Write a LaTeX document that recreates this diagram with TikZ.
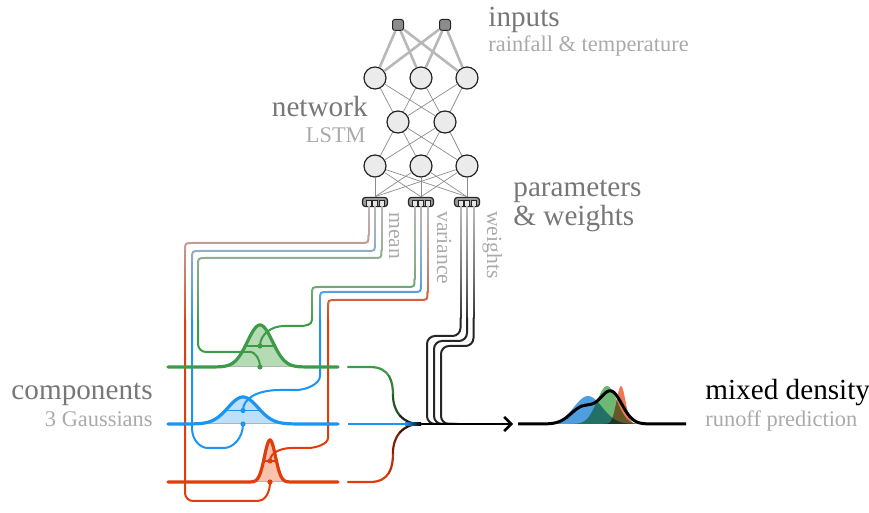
\documentclass[tikz,border=0pt]{standalone}
\usepackage{fontspec}
\setmainfont{Liberation Serif}
\usetikzlibrary{arrows.meta}

\definecolor{cgreen}{HTML}{3D9A47}
\definecolor{cblue}{HTML}{1B95F2}
\definecolor{cred}{HTML}{E03C0C}
\definecolor{fgreen}{HTML}{B5DBB5}
\definecolor{fblue}{HTML}{BCDFFA}
\definecolor{fred}{HTML}{F8C2AD}
\definecolor{mgreen}{HTML}{6DB873}
\definecolor{mblue}{HTML}{4F9FE0}
\definecolor{mred}{HTML}{EC7A5A}
\definecolor{txtdark}{HTML}{777777}
\definecolor{txtlight}{HTML}{AAAAAA}
\definecolor{wiregray}{HTML}{B8B8B8}
\definecolor{wblack}{HTML}{262626}

% colour fraction (percent) for a wire point at height #1 -> \wfp
\newcommand{\wirefrac}[1]{%
  \pgfmathsetmacro\wt{min(1,max(0,((#1)-206)/122))}%
  \pgfmathtruncatemacro\wfp{100*\wt*(0.6+0.4*\wt)}%
}
% vertical wire piece with colour gradient from grey (top) to colour (bottom)
\newcommand{\vgrad}[4]{%
  \pgfmathtruncatemacro\wvgN{max(1,ceil(abs((#3)-(#2))/5))}%
  \foreach \k in {1,...,\wvgN}{%
    \pgfmathsetmacro\wya{(#2)+((\k)-1)*((#3)-(#2))/\wvgN}%
    \pgfmathsetmacro\wyb{(#2)+(\k)*((#3)-(#2))/\wvgN}%
    \wirefrac{(\wya+\wyb)/2}%
    \draw[wp, draw=#4!\wfp!wiregray] (#1,\wya) -- (#1,\wyb);%
  }%
}
% a wire: down from x0, left along run height Y to xL, then down; #5 = rest of path from (xL,320)
\newcommand{\stdwire}[5]{%
  \vgrad{#1}{206.5}{(#2)-8}{#4}%
  \wirefrac{#2}%
  \draw[wp, draw=#4!\wfp!wiregray] (#1,#2-8) .. controls (#1,#2) .. (#1-8,#2) -- (#3+8,#2) .. controls (#3,#2) .. (#3,#2+8);%
  \vgrad{#3}{(#2)+8}{320}{#4}%
  \draw[wp, rounded corners=4pt, draw=#4] (#3,320) #5;%
}

\begin{document}
\begin{tikzpicture}[x=0.5pt,y=-0.5pt,
  neu/.style={circle, draw=black!85, fill=black!8, line width=0.6pt, minimum size=11pt, inner sep=0pt},
  inp/.style={rectangle, rounded corners=1.2pt, draw=black!85, fill=black!45, line width=0.5pt, minimum size=5.5pt, inner sep=0pt},
  blk/.style={rectangle, rounded corners=1.5pt, draw=black!85, fill=black!40, line width=0.6pt, minimum width=12.5pt, minimum height=4.6pt, inner sep=0pt},
  arch/.style={draw=black!85, fill=black!10, line width=0.4pt},
  thickedge/.style={draw=black!28, line width=1.3pt},
  thinedge/.style={draw=black!45, line width=0.35pt},
  wp/.style={line width=1pt, line cap=round},
  comp/.style={line width=1.6pt, line cap=round},
  halfline/.style={line width=0.8pt},
  dot/.style={circle, inner sep=0pt, minimum size=2.6pt},
  conn/.style={line width=1.1pt, line cap=round},
  bigtxt/.style={font=\fontsize{14.6}{17}\selectfont, inner sep=0pt, text=txtdark},
  smalltxt/.style={font=\fontsize{11.2}{13}\selectfont, inner sep=0pt, text=txtlight},
  rottxt/.style={font=\fontsize{10.8}{13}\selectfont, inner sep=0pt, text=txtlight, rotate=-90, anchor=base west},
]
\useasboundingbox (0,0) rectangle (869,513);

% ---------------- network ----------------
\node[inp] (i1) at (398,25) {};
\node[inp] (i2) at (445,25) {};
\node[neu] (a1) at (375,78) {};
\node[neu] (a2) at (421,78) {};
\node[neu] (a3) at (467,78) {};
\node[neu] (b1) at (398,122) {};
\node[neu] (b2) at (445,122) {};
\node[neu] (c1) at (375,166) {};
\node[neu] (c2) at (421,166) {};
\node[neu] (c3) at (467,166) {};
\node[blk] (o1) at (375,202) {};
\node[blk] (o2) at (421,202) {};
\node[blk] (o3) at (467,202) {};

\foreach \s in {i1,i2}{\foreach \t in {a1,a2,a3}{\draw[thickedge] (\s) -- (\t);}}
\foreach \s in {a1,a2,a3}{\foreach \t in {b1,b2}{\draw[thinedge] (\s) -- (\t);}}
\foreach \s in {b1,b2}{\foreach \t in {c1,c2,c3}{\draw[thinedge] (\s) -- (\t);}}
\foreach \s in {c1,c2,c3}{\foreach \t in {o1,o2,o3}{\draw[thinedge] (\s) -- (\t.north);}}

\foreach \c in {375,421,467}{
  \foreach \d in {-6.5,0,6.5}{
    \draw[arch] ({\c+\d-2.6},206.4) -- ({\c+\d-2.6},200.2) -- ({\c+\d+2.6},200.2) -- ({\c+\d+2.6},206.4);
  }
}

% ---------------- component fills ----------------
\fill[fgreen] (205,367) -- plot[domain=205:315, samples=90] (\x,{367-42*exp(-((\x-260)*(\x-260))/312.5)}) -- (315,367) -- cycle;
\fill[fblue] (180,424) -- plot[domain=180:306, samples=90] (\x,{424-27*exp(-((\x-243)*(\x-243))/450)}) -- (306,424) -- cycle;
\fill[fred] (248,482) -- plot[domain=248:292, samples=70] (\x,{482-42*exp(-((\x-270)*(\x-270))/60.5)}) -- (292,482) -- cycle;
\draw[black!30, line width=0.5pt] (215,367) -- (305,367);
\draw[black!30, line width=0.5pt] (195,424) -- (291,424);
\draw[black!30, line width=0.5pt] (255,482) -- (285,482);

% named points
\coordinate (gm) at (260,367);
\coordinate (gv) at (260,346);
\coordinate (bm) at (243,424);
\coordinate (bv) at (243,410.5);
\coordinate (rm) at (270,482);
\coordinate (rv) at (270,461);
\coordinate (join) at (420,424);
\coordinate (sg) at (348,367);
\coordinate (sb) at (348,424);
\coordinate (sr) at (348,482);
\coordinate (aend) at (513,424);

% ---------------- wires: mean ----------------
\stdwire{368.5}{243}{185}{cred}{-- (185,501) -- (250,501) .. controls (264,501) and (270,494) .. (rm)}
\stdwire{375}{251}{192}{cblue}{-- (192,420) .. controls (192,440) and (200,448) .. (216,448) .. controls (233,448) and (243,438) .. (bm)}
\stdwire{381.5}{258}{198}{cgreen}{-- (198,352) -- (243,352) .. controls (254,352) and (260,358) .. (gm)}

% ---------------- wires: variance ----------------
\stdwire{414.5}{287}{312}{cgreen}{.. controls (312,325) and (305,326) .. (292,326) .. controls (272,326) and (260,334) .. (gv)}
\stdwire{421}{292}{320}{cblue}{-- (320,368) .. controls (320,384) and (306,390) .. (288,390) .. controls (258,390) and (243,398) .. (bv)}
\stdwire{427.5}{300}{328}{cred}{-- (328,430) .. controls (328,444) and (316,448) .. (300,448) .. controls (280,448) and (270,453) .. (rv)}

% ---------------- wires: weights ----------------
\vgrad{460.5}{206.5}{318}{wblack}
\draw[wp, rounded corners=4pt, draw=wblack] (460.5,318) -- (460.5,336) -- (427,336) -- (427,424) -- (452,424);
\vgrad{467}{206.5}{318}{wblack}
\draw[wp, rounded corners=4pt, draw=wblack] (467,318) -- (467,341) -- (434,341) -- (434,424) -- (455,424);
\vgrad{473.5}{206.5}{318}{wblack}
\draw[wp, rounded corners=4pt, draw=wblack] (473.5,318) -- (473.5,346) -- (441,346) -- (441,424) -- (458,424);

% ---------------- component curves ----------------
\draw[comp, cgreen] (168,367) -- (205,367) -- plot[domain=205:315, samples=90] (\x,{367-42*exp(-((\x-260)*(\x-260))/312.5)}) -- (338,367);
\draw[comp, cblue] (168,424) -- (180,424) -- plot[domain=180:306, samples=90] (\x,{424-27*exp(-((\x-243)*(\x-243))/450)}) -- (338,424);
\draw[comp, cred] (168,482) -- (248,482) -- plot[domain=248:292, samples=70] (\x,{482-42*exp(-((\x-270)*(\x-270))/60.5)}) -- (338,482);
\draw[halfline, cgreen] (245.3,346) -- (274.7,346);
\draw[halfline, cblue] (225.3,410.5) -- (260.7,410.5);
\draw[halfline, cred] (263.5,461) -- (276.5,461);
\node[dot, fill=cgreen] (dgm) at (gm) {};
\node[dot, fill=cgreen] (dgv) at (gv) {};
\node[dot, fill=cblue] (dbm) at (bm) {};
\node[dot, fill=cblue] (dbv) at (bv) {};
\node[dot, fill=cred] (drm) at (rm) {};
\node[dot, fill=cred] (drv) at (rv) {};

% ---------------- connectors to mixture ----------------
\draw[conn, cgreen] (sg) -- (370,367) .. controls (380,367) and (385.75,370.75) .. (389,376.1);
\draw[conn, cgreen!82!black] (389,376.1) .. controls (392.25,381.5) and (393,388.5) .. (393,395);
\draw[conn, cgreen!55!black] (393,395) .. controls (393,403.5) and (395.5,410.75) .. (400.1,415.9);
\draw[conn, cgreen!25!black] (400.1,415.9) .. controls (404.75,421) and (411.5,424) .. (join);
\draw[conn, cred] (sr) -- (370,482) .. controls (380,482) and (385.75,478.25) .. (389,472.75);
\draw[conn, cred!82!black] (389,472.75) .. controls (392.25,467.25) and (393,460) .. (393,453);
\draw[conn, cred!55!black] (393,453) .. controls (393,444.5) and (395.5,437.25) .. (400.1,432.1);
\draw[conn, cred!25!black] (400.1,432.1) .. controls (404.75,427) and (411.5,424) .. (join);
\draw[conn, cblue, line cap=butt] (sb) -- (406,424);
\shade[left color=cblue, right color=black] (405,422.9) rectangle (421,425.1);
\draw[line width=1.3pt, -{Straight Barb[length=3.5pt, width=7pt, line width=1.3pt]}] (join) -- (aend);

% ---------------- mixed density ----------------
\begin{scope}[blend group=multiply]
  \fill[mblue] (545,424) -- plot[domain=545:640, samples=80] (\x,{424-28*exp(-((\x-588)*(\x-588))/392)}) -- (640,424) -- cycle;
  \fill[mgreen] (570,424) -- plot[domain=570:645, samples=80] (\x,{424-38*exp(-((\x-607)*(\x-607))/200)}) -- (645,424) -- cycle;
  \fill[mred] (603,424) -- plot[domain=603:640, samples=60] (\x,{424-38*exp(-((\x-621)*(\x-621))/40.5)}) -- (640,424) -- cycle;
\end{scope}
\draw[line width=1.5pt, line join=round] (518,424) -- (540,424) -- plot[domain=540:665, samples=120] (\x,{424-17*exp(-((\x-583)*(\x-583))/288)-32*exp(-((\x-611)*(\x-611))/242)}) -- (686,424);

% ---------------- texts ----------------
\node[bigtxt, anchor=base west] (tin) at (488,27) {inputs};
\node[smalltxt, anchor=base west] (tin2) at (488,52) {rainfall \& temperature};
\node[bigtxt, anchor=base east] (tnet) at (368,117) {network};
\node[smalltxt, anchor=base east] (tnet2) at (366,143) {LSTM};
\node[bigtxt, anchor=base west] (tpar) at (513,197) {parameters};
\node[bigtxt, anchor=base west] (tpar2) at (513,226) {\& weights};
\node[bigtxt, anchor=base east] (tcomp) at (153,400) {components};
\node[smalltxt, anchor=base east] (tcomp2) at (153,427) {3 Gaussians};
\node[bigtxt, anchor=base west, text=black] (tmix) at (705,400) {mixed density};
\node[smalltxt, anchor=base west] (tmix2) at (705,427) {runoff prediction};
\node[rottxt] (lmean) at (389,212) {mean};
\node[rottxt] (lvar) at (437,211) {variance};
\node[rottxt] (lw) at (487,211) {weights};
\end{tikzpicture}
\end{document}
